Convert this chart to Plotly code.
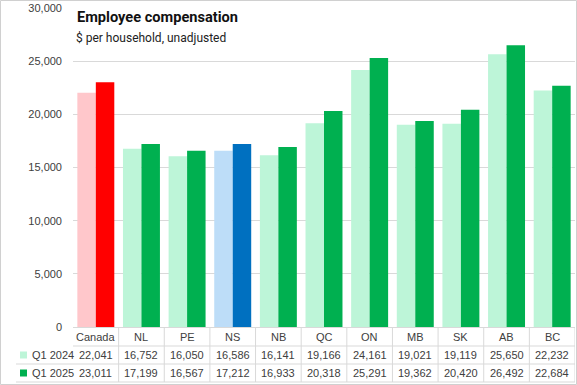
import plotly.graph_objects as go

categories = ["Canada", "NL", "PE", "NS", "NB", "QC", "ON", "MB", "SK", "AB", "BC"]
q1_2024 = [22041, 16752, 16050, 16586, 16141, 19166, 24161, 19021, 19119, 25650, 22232]
q1_2025 = [23011, 17199, 16567, 17212, 16933, 20318, 25291, 19362, 20420, 26492, 22684]
series_names = ["Q1 2024", "Q1 2025"]

LIGHT_GREEN = "#BDF5D8"
DARK_GREEN = "#00B050"
c24 = []
c25 = []
for c in categories:
    if c == "Canada":
        c24.append("#FFC7CB"); c25.append("#FF0000")
    elif c == "NS":
        c24.append("#BDDDF8"); c25.append("#0070C0")
    else:
        c24.append(LIGHT_GREEN); c25.append(DARK_GREEN)

W, H = 577, 385
L, R, T, B = 73, 2, 8, 58
pw, ph = W - L - R, H - T - B

def py(pix):
    return (H - B - pix) / ph

def px(pix):
    return (pix - L) / pw

fig = go.Figure()
fig.add_trace(go.Bar(x=categories, y=q1_2024, name=series_names[0], marker=dict(color=c24, line=dict(width=0))))
fig.add_trace(go.Bar(x=categories, y=q1_2025, name=series_names[1], marker=dict(color=c25, line=dict(width=0))))

tick_font = dict(family="Liberation Sans, Arial, sans-serif", size=11, color="#404040")
grid_col = "#D9D9D9"

shapes = []
annotations = []
n = len(categories)
# table lines
yh, y1, y2, yb = py(346), py(364), py(382), py(327)
shapes.append(dict(type="line", xref="x", yref="paper", x0=-0.5, x1=n - 0.5, y0=yh, y1=yh, line=dict(color=grid_col, width=1)))
shapes.append(dict(type="line", xref="paper", yref="paper", x0=px(16), x1=1, y0=y1, y1=y1, line=dict(color=grid_col, width=1)))
shapes.append(dict(type="line", xref="paper", yref="paper", x0=px(16), x1=1, y0=y2, y1=y2, line=dict(color=grid_col, width=1)))
for i in range(n):
    xb = i + 0.5
    shapes.append(dict(type="line", xref="x", yref="paper", x0=xb, x1=xb, y0=yb, y1=y2, line=dict(color=grid_col, width=1)))
# outer border
shapes.append(dict(type="rect", xref="paper", yref="paper", x0=px(0.5), x1=px(576.5), y0=py(384.5), y1=py(0.5), line=dict(color="#D0D0D0", width=1)))

for i, c in enumerate(categories):
    annotations.append(dict(x=c, xref="x", y=py(337), yref="paper", text=c, showarrow=False, font=tick_font, xanchor="center", yanchor="middle"))
    annotations.append(dict(x=c, xref="x", y=py(355), yref="paper", text=f"{q1_2024[i]:,}", showarrow=False, font=tick_font, xanchor="center", yanchor="middle"))
    annotations.append(dict(x=c, xref="x", y=py(373), yref="paper", text=f"{q1_2025[i]:,}", showarrow=False, font=tick_font, xanchor="center", yanchor="middle"))

for name, col, ypix in [(series_names[0], LIGHT_GREEN, 355), (series_names[1], DARK_GREEN, 373)]:
    shapes.append(dict(type="rect", xref="paper", yref="paper", x0=px(20), x1=px(27), y0=py(ypix + 3.5), y1=py(ypix - 3.5), line=dict(width=0), fillcolor=col))
    annotations.append(dict(x=px(30), xref="paper", y=py(ypix), yref="paper", text=name, showarrow=False, font=tick_font, xanchor="left", yanchor="middle"))

annotations.append(dict(x=px(75), xref="paper", y=py(17), yref="paper", text="<b>Employee compensation</b>", showarrow=False,
                        font=dict(family="Roboto, sans-serif", size=14.6, color="#111111"), xanchor="left", yanchor="middle"))
annotations.append(dict(x=px(74), xref="paper", y=py(38), yref="paper", text="$ per household, unadjusted", showarrow=False,
                        font=dict(family="Roboto, sans-serif", size=12, color="#222222"), xanchor="left", yanchor="middle"))

fig.update_layout(
    width=W, height=H,
    margin=dict(l=L, r=R, t=T, b=B),
    paper_bgcolor="white", plot_bgcolor="white",
    barmode="group", bargap=0.19, bargroupgap=0,
    showlegend=False,
    shapes=shapes, annotations=annotations,
    xaxis=dict(showticklabels=False, showgrid=False, showline=True, linecolor=grid_col, linewidth=1,
               range=[-0.5, n - 0.5], zeroline=False, ticks=""),
    yaxis=dict(range=[0, 30000], dtick=5000, tickformat=",", showgrid=True, gridcolor=grid_col, gridwidth=1,
               zeroline=False, showline=False, tickfont=tick_font, ticklabelstandoff=10),
)

fig.write_html("out.html", config={"displayModeBar": False},
               post_script="document.body.style.margin='0px';document.body.style.overflow='hidden';")
